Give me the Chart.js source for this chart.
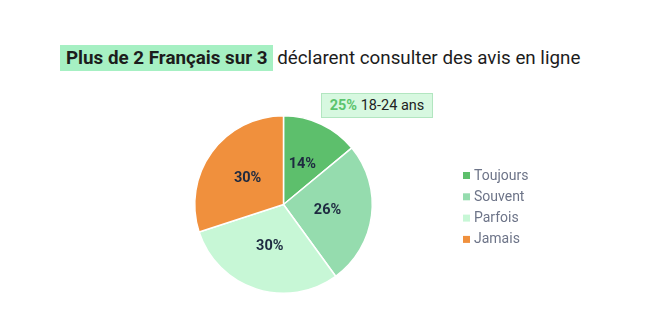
<!DOCTYPE html>
<html>
<head>
<meta charset="utf-8">
<script src="https://cdn.jsdelivr.net/npm/chart.js@4"></script>
<style>
    html, body { margin: 0; padding: 0; background: #fff; }
    #wrap { position: relative; width: 664px; height: 325px; overflow: hidden; }
    #pieChart { position: absolute; left: 0; top: 0; }
    .title { position: absolute; left: 60px; top: 45px; font-family: Roboto, sans-serif; font-size: 18.8px; color: #1c1c1c; white-space: nowrap; line-height: 26px; }
    .title .hl { background: #a6f0c3; font-weight: bold; padding: 0 5px 0 6px; display: inline-block; }
    .note { position: absolute; left: 321px; top: 93px; width: 110px; height: 23px; background: #d7f8e0; border: 1px solid #b2e6c0; font-family: Roboto, sans-serif; font-size: 14.5px; line-height: 23px; color: #222; box-sizing: content-box; text-align: center; }
    .note b { color: #5cc46d; }
</style>
</head>
<body>
<div id="wrap">
    <div class="title"><span class="hl">Plus de 2 Français sur 3</span> déclarent consulter des avis en ligne</div>
    <canvas id="pieChart" width="664" height="325"></canvas>
    <div class="note"><b>25%</b> 18-24 ans</div>
</div>
<script>
// Data
const categories = ['Toujours', 'Souvent', 'Parfois', 'Jamais'];
const shares = [14, 26, 30, 30];
const sliceColors = ['#5dbf6c', '#95dcae', '#c7f7d6', '#f0903d'];

// Slice labels at the middle of each arc
const sliceLabels = {
    id: 'sliceLabels',
    afterDatasetsDraw(chart) {
        const ctx = chart.ctx;
        const meta = chart.getDatasetMeta(0);
        ctx.save();
        ctx.font = "bold 14.5px Roboto, sans-serif";
        ctx.fillStyle = '#1e2a40';
        ctx.textAlign = 'center';
        ctx.textBaseline = 'middle';
        meta.data.forEach((arc, i) => {
            const p = arc.tooltipPosition();
            ctx.fillText(chart.data.datasets[0].data[i] + '%', p.x, p.y);
        });
        ctx.restore();
    }
};

// Simple legend on the right
const sideLegend = {
    id: 'sideLegend',
    afterDraw(chart) {
        const ctx = chart.ctx;
        ctx.save();
        ctx.font = "14px Roboto, sans-serif";
        ctx.textBaseline = 'middle';
        chart.data.labels.forEach((label, i) => {
            const y = 176 + i * 21.3;
            ctx.fillStyle = chart.data.datasets[0].backgroundColor[i];
            ctx.fillRect(463, y - 4, 7, 7);
            ctx.fillStyle = '#6d7488';
            ctx.fillText(label, 474, y);
        });
        ctx.restore();
    }
};

new Chart(document.getElementById('pieChart'), {
    type: 'pie',
    data: {
        labels: categories,
        datasets: [{
            data: shares,
            backgroundColor: sliceColors,
            borderColor: '#ffffff',
            borderWidth: 1.5
        }]
    },
    plugins: [sliceLabels, sideLegend],
    options: {
        responsive: false,
        animation: false,
        layout: { padding: { left: 194, right: 291, top: 115, bottom: 31 } },
        plugins: {
            legend: { display: false },
            tooltip: { enabled: false }
        }
    }
});
</script>
</body>
</html>
